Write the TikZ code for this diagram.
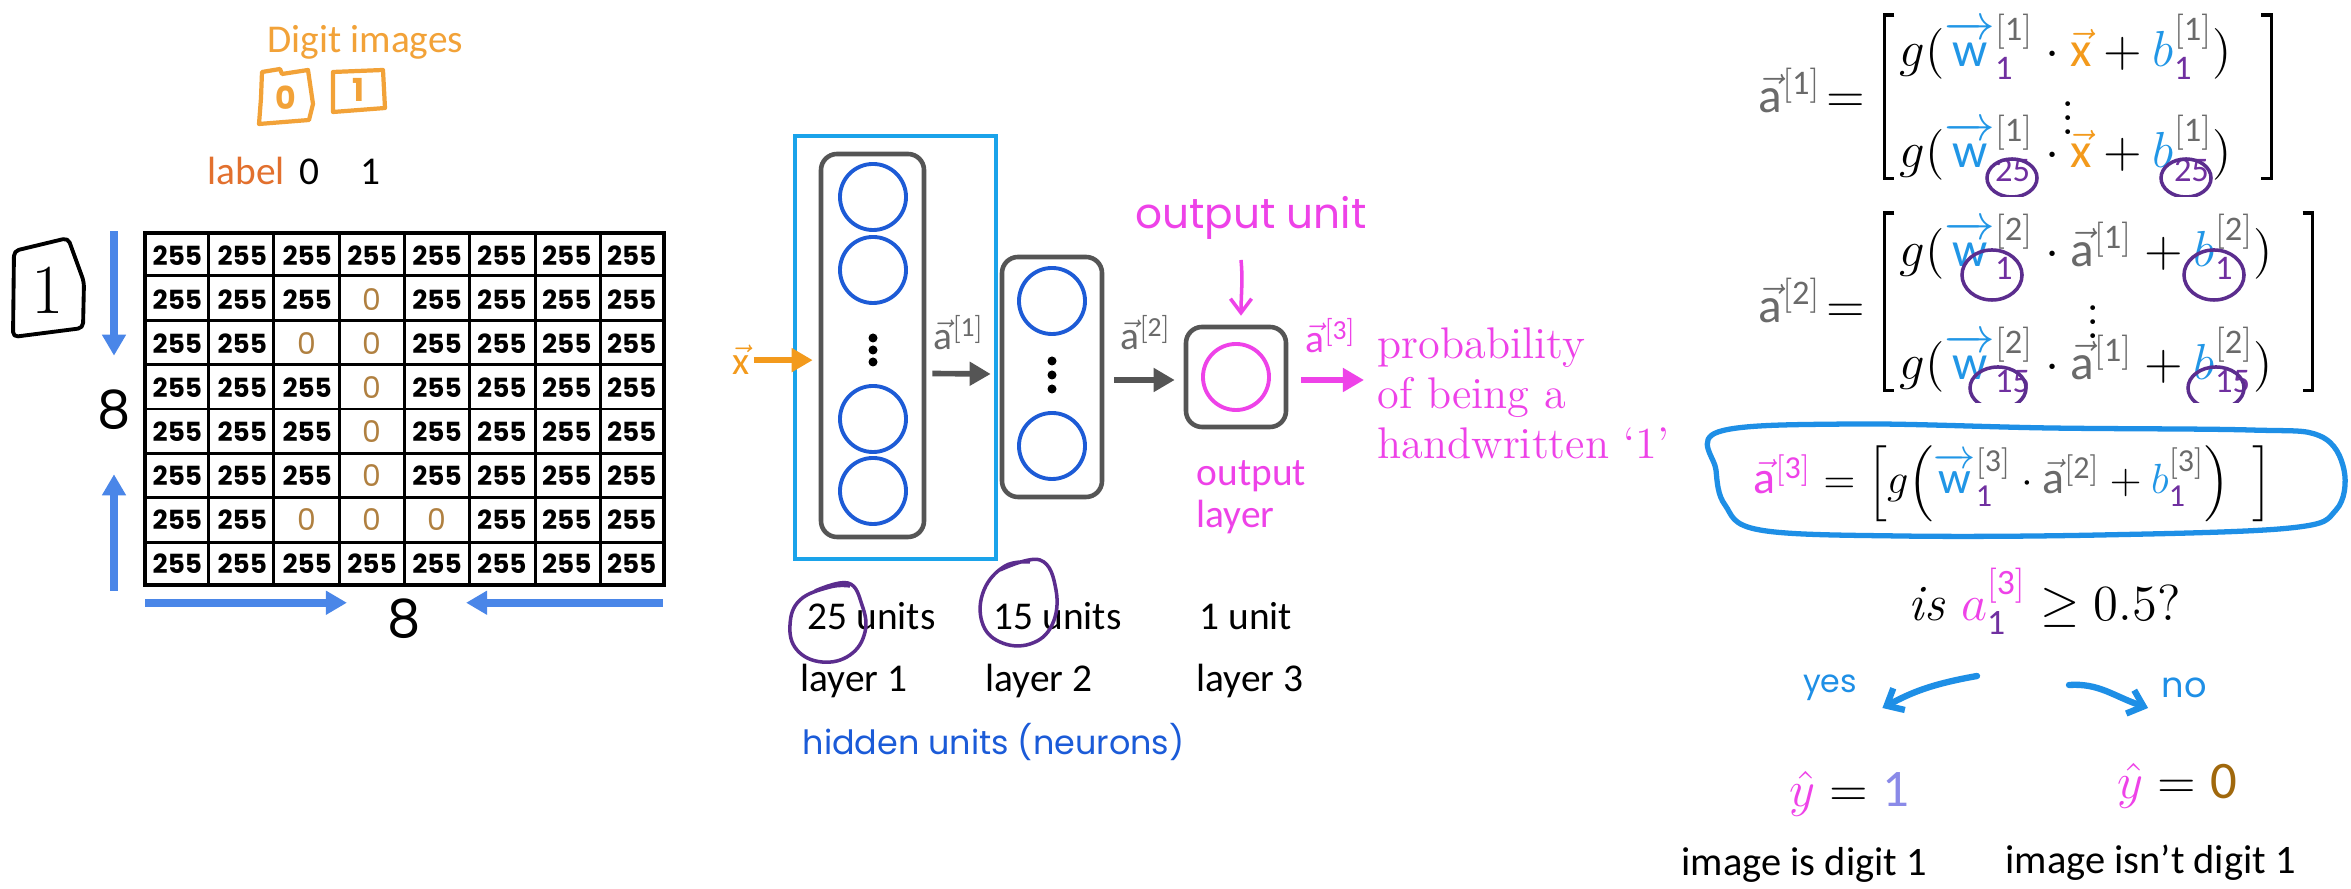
\documentclass[tikz,border=0pt]{standalone}
\usepackage{fontspec}
\usepackage{amsmath}
\setsansfont{Carlito}
\newfontfamily\handfont{Poppins}
\usetikzlibrary{arrows.meta,fit,calc}

\definecolor{dorange}{HTML}{F2A238}
\definecolor{lorange}{HTML}{E2702E}
\definecolor{arrblue}{HTML}{4A86E8}
\definecolor{zbrown}{HTML}{B08040}
\definecolor{rectblue}{HTML}{1AA3EA}
\definecolor{boxgray}{HTML}{555555}
\definecolor{unitblue}{HTML}{1D5BD6}
\definecolor{pinkc}{HTML}{EE42E8}
\definecolor{agray}{HTML}{6A6A6A}
\definecolor{loopurple}{HTML}{5B2D8E}
\definecolor{hblue}{HTML}{1B5BD8}
\definecolor{xorange}{HTML}{F39A1C}
\definecolor{wblue}{HTML}{2196E6}
\definecolor{subpurple}{HTML}{7030A0}
\definecolor{yesblue}{HTML}{1E8FE6}
\definecolor{lav}{HTML}{8A8AE8}
\definecolor{ybrown}{HTML}{A0680C}

\newcommand{\avec}{\vec{\mathsf{a}}}
\newcommand{\wvec}{\smash[t]{\overrightarrow{\mathsf{w}}}}
\newcommand{\xvec}{\vec{\mathsf{x}}}
\newcommand{\sqlay}[1]{\textcolor{agray}{\mathsf{[#1]}}}
\newcommand{\subp}[1]{\textcolor{subpurple}{\mathsf{#1}}}

\begin{document}
\begin{tikzpicture}[x=0.01cm,y=-0.01cm,
	sans/.style={font=\sffamily\fontsize{11.2}{13.4}\selectfont,inner sep=0},
	hand/.style={font=\handfont\fontsize{#1}{#1}\selectfont},
	cellnum/.style={font=\handfont\bfseries\fontsize{7.5}{7.5}\selectfont,inner sep=0},
	cellzero/.style={hand=8.5,inner sep=0,text=zbrown},
	bigarrow/.style={draw=arrblue,line width=2.2pt,-{Triangle[length=6pt,width=6.5pt]}},
	layerbox/.style={draw=boxgray,line width=1.3pt,rounded corners=0.16cm,inner sep=0},
	neuron/.style={circle,draw=unitblue,line width=1.1pt,minimum size=0.66cm,inner sep=0},
	netarrow/.style={line width=1.6pt,-{Triangle[length=6pt,width=6.5pt]}},
	vecl/.style={sans,text=agray,anchor=base},
	purpring/.style={draw=loopurple,line width=1pt},
	mathrow/.style={font=\fontsize{14}{16}\selectfont,inner sep=0,anchor=base west},
	brk/.style={line width=1pt},
	handarrow/.style={draw=yesblue,line width=1.8pt,line cap=round,-{Straight Barb[length=4pt,width=7pt]}}
	]
	\fill[white] (0,0) rectangle (2351,889);
	\useasboundingbox (0,0) rectangle (2351,889);
	\node[sans,text=dorange,anchor=base west] (digits) at (267,53) {Digit images};
	\node[font=\handfont\bfseries\fontsize{9}{9}\selectfont,text=dorange] (img0) at (286,98) {0};
	\node[font=\handfont\bfseries\fontsize{9}{9}\selectfont,text=dorange] (img1) at (358,90) {1};
	\draw[dorange,line width=1.2pt,line join=round] (262,72) -- (280,69) -- (282,74) -- (308,70) -- (313,104) -- (309,120) -- (259,124) -- (261,98) -- cycle;
	\draw[dorange,line width=1.2pt,line join=round] (333,72) -- (383,70) -- (385,108) -- (333,112) -- cycle;
	\node[sans,text=lorange,anchor=base west] (lbl) at (207,185) {label};
	\node[sans,anchor=base] (lbl0) at (309,185) {0};
	\node[sans,anchor=base] (lbl1) at (370,185) {1};
	\node[font=\fontsize{20}{20}\selectfont] (one) at (48,290) {1};
	\draw[line width=1.1pt,line join=round,rounded corners=0.05cm] (14,251) -- (68,238) -- (84,282) -- (83,328) -- (13,337) -- cycle;
	\node[draw,line width=1pt,inner sep=0,fit={(145,233) (664,585)}] (grid) {};
	\foreach \i in {1,...,7}{
		\draw[line width=0.8pt] ($(grid.north west)!\i/8!(grid.north east)$) -- ($(grid.south west)!\i/8!(grid.south east)$);
		\draw[line width=0.8pt] ($(grid.north west)!\i/8!(grid.south west)$) -- ($(grid.north east)!\i/8!(grid.south east)$);
	}
	\foreach \row [count=\ri from 0] in {{1,1,1,1,1,1,1,1},{1,1,1,0,1,1,1,1},{1,1,0,0,1,1,1,1},{1,1,1,0,1,1,1,1},{1,1,1,0,1,1,1,1},{1,1,1,0,1,1,1,1},{1,1,0,0,0,1,1,1},{1,1,1,1,1,1,1,1}}
		\foreach \v [count=\ci from 0] in \row {
			\ifnum\v=1
				\node[cellnum] (px-\ri-\ci) at ({177.4+64.9*\ci},{256+44*\ri}) {255};
			\else
				\node[cellzero] (px-\ri-\ci) at ({177.4+64.9*\ci},{256+44*\ri}) {0};
			\fi
		}
	\node[hand=15] (eightv) at (114,410) {8};
	\node[hand=15] (eighth) at (404,619) {8};
	\draw[bigarrow] (eightv |- grid.north) -- ($(eightv.north)+(0,-22)$);
	\draw[bigarrow] ($(eightv |- grid.south)+(0,4)$) -- ($(eightv.south)+(0,32)$);
	\draw[bigarrow] ($(grid.south west)+(2,16)$) -- ($(eighth.west |- grid.south)+(-28,16)$);
	\draw[bigarrow] ($(grid.south east)+(-3,16)$) -- ($(eighth.east |- grid.south)+(33,16)$);
	\node[draw=rectblue,line width=1.1pt,inner sep=0,fit={(795,136) (996,559)}] (hid) {};
	\node[layerbox,fit={(821,154) (924,537)}] (l1) {};
	\node[neuron] (n11) at (873,197) {};
	\node[neuron] (n12) at (873,270) {};
	\node[neuron] (n13) at (873,419) {};
	\node[neuron] (n14) at (873,491) {};
	\foreach \d in {338,350,362} \fill (873,\d) circle (0.045cm);
	\node[layerbox,fit={(1002,257) (1102,497)}] (l2) {};
	\node[neuron] (n21) at (1052,301) {};
	\node[neuron] (n22) at (1052,446) {};
	\foreach \d in {361,375,389} \fill (1052,\d) circle (0.045cm);
	\node[layerbox,fit={(1186,327) (1286,427)}] (l3) {};
	\node[neuron,draw=pinkc] (n31) at (1236,377) {};
	\node[vecl,text=xorange] (xin) at (741,375) {$\xvec$};
	\draw[netarrow,xorange] ([xshift=1pt]xin.east) -- ($(l1.west |- xin.east)+(-6,0)$);
	\draw[netarrow,boxgray] ($(l1.east)+(6,28)$) -- ($(l2.west)+(-9,-3)$);
	\draw[netarrow,boxgray] ($(l2.east)+(10,3)$) -- ($(l3.west)+(-9,3)$);
	\node[vecl] (a1) at (959,350) {$\avec^{\mathsf{[1]}}$};
	\node[vecl] (a2) at (1146,350) {$\avec^{\mathsf{[2]}}$};
	\node[vecl,text=pinkc] (a3) at (1331,353) {$\avec^{\mathsf{[3]}}$};
	\node[text=pinkc,align=left,anchor=north west,inner sep=0,font=\fontsize{12.6}{14.2}\selectfont] (prob) at (1377,327) {probability\\of being a\\handwritten `1'};
	\draw[netarrow,pinkc] ($(l3.east)+(13,3)$) -- ($(prob.north west)+(-13,53)$);
	\node[hand=12,text=pinkc] (ounit) at (1251,218) {output unit};
	\draw[pinkc,line width=1pt,-{Straight Barb[length=4pt,width=6pt]}] ([xshift=-0.1cm,yshift=-0.08cm]ounit.south) .. controls +(2,20) and +(0,-20) .. ([xshift=0.05cm,yshift=0.09cm]l3.north);
	\node[sans,text=pinkc,anchor=base west] (olay1) at (1196,486) {output};
	\node[sans,text=pinkc,anchor=base west] (olay2) at (1196,528) {layer};
	\node[sans,anchor=base west] (u1) at (807,630) {25 units};
	\node[sans,anchor=base west] (u2) at (993,630) {15 units};
	\node[sans,anchor=base west] (u3) at (1199,630) {1 unit};
	\node[sans,anchor=base west] (ly1) at (800,692) {layer 1};
	\node[sans,anchor=base west] (ly2) at (985,692) {layer 2};
	\node[sans,anchor=base west] (ly3) at (1196,692) {layer 3};
	\node[hand=9.5,text=hblue,anchor=base west,inner sep=0] (hidu) at (802,755) {hidden units (neurons)};
	\draw[purpring] plot[smooth,tension=0.7] coordinates {(815,591) (848,583) (862,605) (865,632) (850,655) (822,662) (797,650) (790,625) (800,600) (830,587) (850,586)};
	\draw[purpring] plot[smooth,tension=0.7] coordinates {(1000,570) (1040,560) (1056,590) (1052,625) (1030,644) (1000,642) (982,622) (984,590) (1005,566) (1030,562)};
	\node[mathrow,anchor=base east] (lhs1) at (1866,113) {$\textcolor{agray}{\avec^{\mathsf{[1]}}}\!=$};
	\node[mathrow] (r11) at (1899,67) {$g(\textcolor{wblue}{\wvec}^{\sqlay{1}}_{\subp{1}}\cdot\textcolor{xorange}{\xvec}+\textcolor{wblue}{b}^{\sqlay{1}}_{\subp{1}})$};
	\node[mathrow] (r13) at (1899,168) {$g(\textcolor{wblue}{\wvec}^{\sqlay{1}}_{\subp{25}}\cdot\textcolor{xorange}{\xvec}+\textcolor{wblue}{b}^{\sqlay{1}}_{\subp{25}})$};
	\node[font=\fontsize{14}{16}\selectfont] (dots1) at (2068,108) {$\vdots$};
	\node[fit=(r11)(r13),inner xsep=0.14cm,inner ysep=0] (m1) {};
	\draw[brk] ([shift={(10,2)}]m1.north west) -- ([shift={(0,2)}]m1.north west) -- ([shift={(0,-4)}]m1.south west) -- ([shift={(10,-4)}]m1.south west);
	\draw[brk] ([shift={(14,2)}]m1.north east) -- ([shift={(24,2)}]m1.north east) -- ([shift={(24,-4)}]m1.south east) -- ([shift={(14,-4)}]m1.south east);
	\node[mathrow,anchor=base east] (lhs2) at (1866,323) {$\textcolor{agray}{\avec^{\mathsf{[2]}}}\!=$};
	\node[mathrow] (r21) at (1899,267) {$g(\textcolor{wblue}{\wvec}^{\sqlay{2}}_{\subp{1}}\cdot\textcolor{agray}{\avec^{\mathsf{[1]}}}+\textcolor{wblue}{b}^{\sqlay{2}}_{\subp{1}})$};
	\node[mathrow] (r23) at (1899,380) {$g(\textcolor{wblue}{\wvec}^{\sqlay{2}}_{\subp{15}}\cdot\textcolor{agray}{\avec^{\mathsf{[1]}}}+\textcolor{wblue}{b}^{\sqlay{2}}_{\subp{15}})$};
	\node[font=\fontsize{14}{16}\selectfont] (dots2) at (2093,312) {$\vdots$};
	\node[fit=(r21)(r23),inner xsep=0.14cm,inner ysep=0] (m2) {};
	\draw[brk] ([shift={(10,0)}]m2.north west) -- ([shift={(0,0)}]m2.north west) -- ([shift={(0,-4)}]m2.south west) -- ([shift={(10,-4)}]m2.south west);
	\draw[brk] ([shift={(14,0)}]m2.north east) -- ([shift={(24,0)}]m2.north east) -- ([shift={(24,-4)}]m2.south east) -- ([shift={(14,-4)}]m2.south east);
	\begin{scope}
		\clip (1700,0) rectangle (2351,197);
		\draw[purpring] (2012,178) ellipse (0.25cm and 0.19cm);
		\draw[purpring] (2186,178) ellipse (0.25cm and 0.19cm);
	\end{scope}
	\begin{scope}
		\clip (1700,205) rectangle (2351,403);
		\draw[purpring] (1992,275) ellipse (0.3cm and 0.25cm);
		\draw[purpring] (2214,275) ellipse (0.3cm and 0.25cm);
		\draw[purpring] (1998,388) ellipse (0.28cm and 0.21cm);
		\draw[purpring] (2216,388) ellipse (0.28cm and 0.21cm);
	\end{scope}
	\node[mathrow,font=\fontsize{13}{16}\selectfont] (f3) at (1753,494) {$\textcolor{pinkc}{\avec^{\mathsf{[3]}}}=\Big[g\Big(\textcolor{wblue}{\wvec}^{\sqlay{3}}_{\subp{1}}\cdot\textcolor{agray}{\avec^{\mathsf{[2]}}}+\textcolor{wblue}{b}^{\sqlay{3}}_{\subp{1}}\Big)\enspace\Big]$};
	\draw[draw=yesblue,line width=1.5pt] plot[smooth cycle,tension=0.6] coordinates {(1718,432) (1850,424) (2050,428) (2250,430) (2320,436) (2344,470) (2336,510) (2290,528) (2100,535) (1900,536) (1760,530) (1725,505) (1716,470)};
	\node[mathrow,font=\fontsize{14.5}{17}\selectfont] (quest) at (1908,621) {$\mathit{is}\ \textcolor{pinkc}{a}^{\textcolor{pinkc}{\mathsf{[3]}}}_{\subp{1}}\geq 0.5?$};
	\node[hand=9,text=yesblue] (yes) at (1830,688) {yes};
	\node[hand=10,text=yesblue] (no) at (2184,688) {no};
	\coordinate (yesfrom) at (1977,676);
	\coordinate (nofrom) at (2069,685);
	\draw[handarrow] (yesfrom) .. controls +(-45,8) and +(30,-16) .. ($(yes.east)+(13,20)$);
	\draw[handarrow] (nofrom) .. controls +(30,-2) and +(-35,-12) .. ($(no.west)+(-1,20)$);
	\node[mathrow,font=\fontsize{15}{17}\selectfont] (yh1) at (1789,807) {$\textcolor{pinkc}{\hat{y}}=\textcolor{lav}{\mathsf{1}}$};
	\node[mathrow,font=\fontsize{15}{17}\selectfont] (yh0) at (2117,799) {$\textcolor{pinkc}{\hat{y}}=\textcolor{ybrown}{\mathsf{0}}$};
	\node[sans,anchor=base west,font=\sffamily\fontsize{11.5}{13}\selectfont] (cap1) at (1681,876) {image is digit 1};
	\node[sans,anchor=base west,font=\sffamily\fontsize{11.5}{13}\selectfont] (cap0) at (2005,874) {image isn't digit 1};
\end{tikzpicture}
\end{document}
